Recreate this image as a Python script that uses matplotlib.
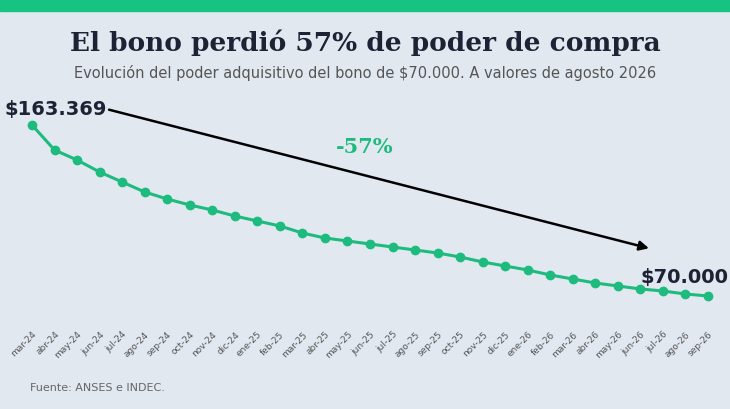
import matplotlib
matplotlib.use("Agg")
import matplotlib.pyplot as plt

months = ["mar-24","abr-24","may-24","jun-24","jul-24","ago-24","sep-24","oct-24","nov-24","dic-24",
          "ene-25","feb-25","mar-25","abr-25","may-25","jun-25","jul-25","ago-25","sep-25","oct-25",
          "nov-25","dic-25","ene-26","feb-26","mar-26","abr-26","may-26","jun-26","jul-26","ago-26","sep-26"]
values = [163369,149719,144259,137707,132247,126787,122965,119689,116959,113683,
          110953,108223,104401,101671,100033,98395,96757,95119,93481,91297,
          88567,86383,84199,81469,79285,77101,75463,73825,72733,71095,70000]

bg = "#e2e8f0"
green = "#1dbb7e"
W, H = 730, 410
fig = plt.figure(figsize=(W/100, H/100), dpi=100, facecolor=bg)
fig.add_artist(plt.Rectangle((0, 1-12/H), 1, 12/H, transform=fig.transFigure, color="#17c383"))

ax = fig.add_axes([32/W, 1-305/H, (708-32)/W, 205/H])
ax.set_facecolor(bg)
x = list(range(len(months)))
ax.plot(x, values, color=green, lw=2.2, marker="o", ms=6, clip_on=False, zorder=3)
ax.set_xlim(0, len(months)-1)
ax.set_ylim(65632, 177565)
for s in ax.spines.values():
    s.set_visible(False)
ax.set_yticks([])
ax.set_xticks(x)
ax.set_xticklabels(months, rotation=45, ha="right", rotation_mode="anchor", fontsize=6.5, color="#555")
ax.tick_params(axis="x", length=0, pad=18)

ax.annotate("", xy=(27.5, 95665), xytext=(3.3, 172105),
            arrowprops=dict(arrowstyle="-|>", color="black", lw=1.8, mutation_scale=14), annotation_clip=False)

fig.text(5/W, 1-110/H, "$163.369", fontsize=14, fontweight="bold", color="#1e2235", va="center")
fig.text(729/W, 1-278/H, "$70.000", fontsize=14, fontweight="bold", color="#1e2235", va="center", ha="right")
fig.text(365/W, 1-147/H, "-57%", fontsize=15, fontweight="bold", color=green, va="center", ha="center", family="DejaVu Serif")
fig.text(0.5, 1-43/H, "El bono perdió 57% de poder de compra", fontsize=19, fontweight="bold",
         color="#1e2235", ha="center", va="center", family="DejaVu Serif")
fig.text(0.5, 1-73/H, "Evolución del poder adquisitivo del bono de $70.000. A valores de agosto 2026",
         fontsize=10.5, color="#555", ha="center", va="center")
fig.text(30/W, 1-388/H, "Fuente: ANSES e INDEC.", fontsize=8, color="#666", va="center")

fig.savefig("out.png", dpi=100, facecolor=bg)
